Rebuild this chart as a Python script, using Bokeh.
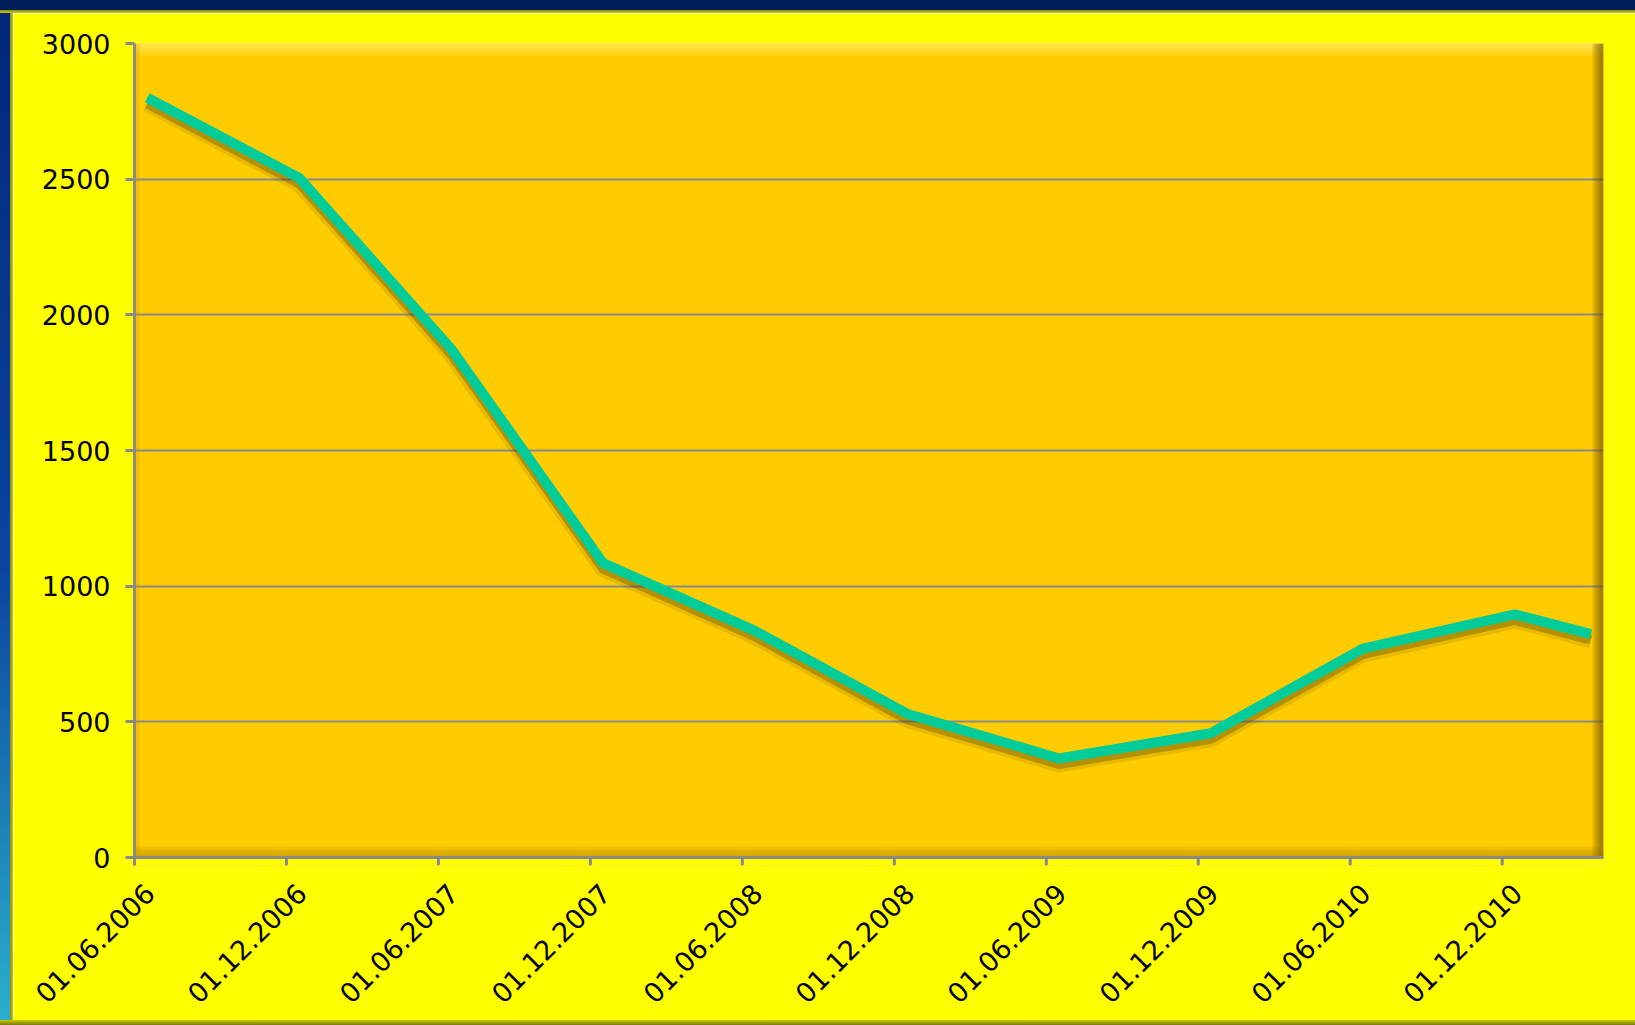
import math
from bokeh.plotting import figure
from bokeh.models import (Range1d, FixedTicker, BoxAnnotation, LinearAxis, Span,
                          ColumnDataSource, Div)
from bokeh.layouts import column, row
from bokeh.embed import file_html
from bokeh.resources import INLINE

# ---- data ----
dates = ["2006-06", "2006-12", "2007-06", "2007-12", "2008-06", "2008-12",
         "2009-06", "2009-12", "2010-06", "2010-12", "2011-03"]
values = [2800, 2505, 1875, 1085, 835, 530, 365, 458, 770, 896, 823]
tick_labels = ["01.06.2006", "01.12.2006", "01.06.2007", "01.12.2007", "01.06.2008",
               "01.12.2008", "01.06.2009", "01.12.2009", "01.06.2010", "01.12.2010"]
y_ticks = [0, 500, 1000, 1500, 2000, 2500, 3000]

# ---- axis geometry (month slots, Excel-style date axis) ----
START_YEAR, START_MONTH = 2006, 6
N_MONTHS = 58
Y_MAX = 3000


def month_index(s):
    y, m = map(int, s.split("-"))
    return (y - START_YEAR) * 12 + (m - START_MONTH)


xs = [month_index(d) + 0.5 for d in dates]
tick_pos = [6 * i for i in range(len(tick_labels))]

BAND = 13                      # dark outer band (top / left) incl. olive edge
BOTTOM = 5
W, H = 1635 - BAND, 1025 - BAND - BOTTOM
FW = 1469
TICK = 8                       # x tick length (drawn inside the extended frame)
FH = 814 + TICK
BL, BT = 134 - BAND, 43 - BAND
x_per_px = N_MONTHS / FW
y_per_px = Y_MAX / 814
Y_MIN = -TICK * y_per_px

p = figure(frame_width=FW, frame_height=FH, width=W, height=H,
           x_range=Range1d(0, N_MONTHS), y_range=Range1d(Y_MIN, Y_MAX),
           x_axis_location=None,
           output_backend="svg", toolbar_location=None,
           background_fill_color="#FFCC00", border_fill_color="#FFFF00",
           outline_line_color=None,
           min_border_left=BL, min_border_right=W - BL - FW,
           min_border_top=BT, min_border_bottom=H - BT - FH)

# shadow range: shifts the shadow line a few pixels down
shadow_off = 6 * y_per_px
p.extra_y_ranges = {"shadow": Range1d(Y_MIN + shadow_off, Y_MAX + shadow_off)}
# label range: tick labels sit a little right of their tick marks (as in Excel)
lbl_off = 15 * x_per_px
p.extra_x_ranges = {"lbl": Range1d(0 - lbl_off, N_MONTHS - lbl_off)}

# ---- bevel decorations of the plot area ----
for k in range(4):
    p.add_layout(BoxAnnotation(left=0, right=N_MONTHS,
                               top=Y_MAX, bottom=Y_MAX - (12 - 3 * k) * y_per_px,
                               fill_color="#FFF27A", fill_alpha=0.2, line_color=None,
                               level="underlay"))
for k in range(5):
    p.add_layout(BoxAnnotation(left=N_MONTHS - (11 - 2 * k) * x_per_px, right=N_MONTHS,
                               top=Y_MAX, bottom=0,
                               fill_color="#6E5200", fill_alpha=0.18, line_color=None,
                               level="underlay"))
for k in range(4):
    p.add_layout(BoxAnnotation(left=0, right=N_MONTHS,
                               top=(11 - 3 * k) * y_per_px, bottom=0,
                               fill_color="#9A7400", fill_alpha=0.14, line_color=None,
                               level="underlay"))
p.add_layout(BoxAnnotation(left=0, right=5 * x_per_px, top=Y_MAX, bottom=0,
                           fill_color="#C89A00", fill_alpha=0.25, line_color=None,
                           level="underlay"))
# strip below the zero line belongs to the yellow chart background
p.add_layout(BoxAnnotation(left=0, right=N_MONTHS, top=0, bottom=Y_MIN,
                           fill_color="#FFFF00", fill_alpha=1, line_color=None,
                           level="underlay"))

# ---- grid & axes ----
for g in p.xgrid:
    g.visible = False
p.ygrid.ticker = FixedTicker(ticks=y_ticks)
p.ygrid.grid_line_color = "#8A8A8A"
p.ygrid.grid_line_width = 2

p.yaxis.ticker = FixedTicker(ticks=y_ticks)
p.yaxis.axis_line_color = "#8A8A8A"
p.yaxis.axis_line_width = 3
p.yaxis.major_tick_line_color = "#8A8A8A"
p.yaxis.major_tick_line_width = 3
p.yaxis.major_tick_in = 0
p.yaxis.major_tick_out = 9
p.yaxis.minor_tick_line_color = None
p.yaxis.major_label_text_font = "DejaVu Sans"
p.yaxis.major_label_text_font_size = "27px"
p.yaxis.major_label_text_color = "#000000"
p.yaxis.major_label_standoff = 15

# x axis line and tick marks at the zero line
p.add_layout(Span(location=0, dimension="width", line_color="#8A8A8A", line_width=3))
tick_src = ColumnDataSource(dict(x=tick_pos, y0=[0] * len(tick_pos),
                                 y1=[Y_MIN] * len(tick_pos)))
p.segment(x0="x", y0="y0", x1="x", y1="y1", source=tick_src,
          line_color="#8A8A8A", line_width=3)

lbl_axis = LinearAxis(x_range_name="lbl", ticker=FixedTicker(ticks=tick_pos),
                      major_label_overrides={pos: lab for pos, lab in zip(tick_pos, tick_labels)},
                      major_label_orientation=math.pi / 4,
                      axis_line_color=None, major_tick_line_color=None,
                      minor_tick_line_color=None, major_tick_out=0, major_tick_in=0,
                      major_label_standoff=23,
                      major_label_text_font="DejaVu Sans",
                      major_label_text_font_size="27px",
                      major_label_text_color="#000000")
p.add_layout(lbl_axis, "below")

# ---- series (shadow + line) ----
p.line(xs, values, y_range_name="shadow", line_color="#4A3A00", line_alpha=0.13,
       line_width=16, line_join="round")
p.line(xs, values, y_range_name="shadow", line_color="#4A3A00", line_alpha=0.32,
       line_width=9, line_join="round")
p.line(xs, values, line_color="#00CC99", line_width=10, line_join="round")

# ---- outer dark bands (top, left, bottom edge) ----
top_band = Div(text="", width=W + BAND, height=BAND,
               styles={"background": "linear-gradient(to bottom, #001E5A 0px, #001E5A 10px, "
                                     "#8C8C10 10px, #C8C800 13px)",
                       "margin": "0", "padding": "0"})
left_band = Div(text="", width=BAND, height=H,
                styles={"background": "linear-gradient(to right, rgba(0,0,0,0) 10px, "
                                      "#8C8C10 10px, #C8C800 13px), "
                                      "linear-gradient(#00287A, #0B44A0 55%, #2AB0CC)",
                        "margin": "0", "padding": "0"})
bottom_band = Div(text="", width=W + BAND, height=BOTTOM,
                  styles={"background": "linear-gradient(to bottom, #C8C800, #7A7A10)",
                          "margin": "0", "padding": "0"})
layout = column(top_band, row(left_band, p, spacing=0), bottom_band, spacing=0)

open("out.html", "w").write(file_html(layout, INLINE))
